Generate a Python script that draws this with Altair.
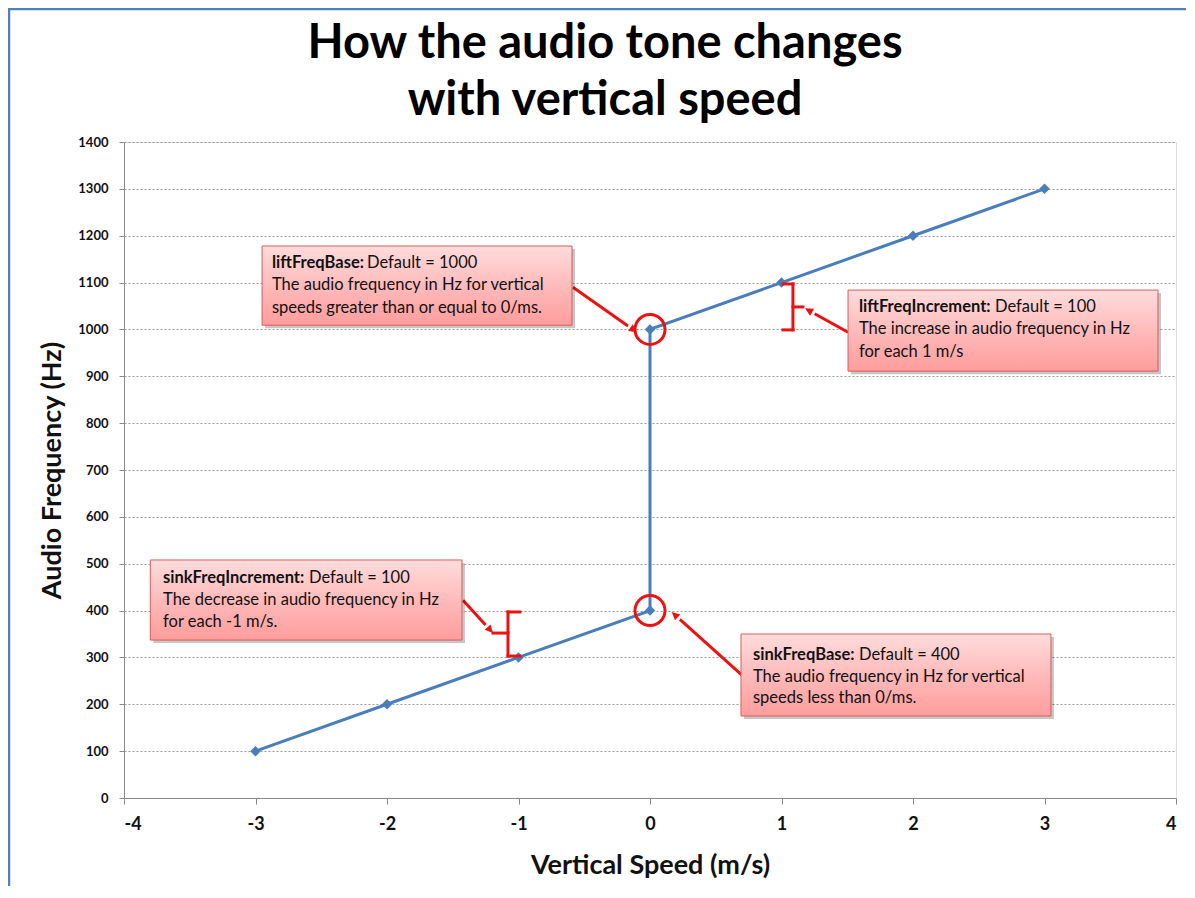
import altair as alt
import pandas as pd
import numpy as np

# ---- data ----
speed = [-3, -2, -1, 0, 0, 1, 2, 3]
freq = [100, 200, 300, 400, 1000, 1100, 1200, 1300]
x_ticks = [-4, -3, -2, -1, 0, 1, 2, 3, 4]
y_ticks = list(range(0, 1500, 100))

title_lines = ["How the audio tone changes", "with vertical speed"]
x_title = "Vertical Speed (m/s)"
y_title = "Audio Frequency (Hz)"

# annotation boxes (data units)
box_x = [-2.95, 1.506, -3.80, 0.692]
box_x2 = [-0.593, 3.863, -1.43, 3.049]
box_y = [1178, 1084, 508, 350]
box_y2 = [1009, 911, 337, 175]

bold_text = ["liftFreqBase:", "liftFreqIncrement:", "sinkFreqIncrement:", "sinkFreqBase:"]
norm_text = ["Default = 1000", "Default = 100", "Default = 100", "Default = 400"]
line2_text = ["The audio frequency in Hz for vertical", "The increase in audio frequency in Hz",
              "The decrease in audio frequency in Hz", "The audio frequency in Hz for vertical"]
line3_text = ["speeds greater than or equal to 0/ms.", "for each 1 m/s",
              "for each -1 m/s.", "speeds less than 0/ms."]
text_x = [-2.875, 1.589, -3.703, 0.783]
norm_x = [-2.152, 2.624, -2.593, 1.589]
base1 = [1131, 1037, 459, 294]
base2 = [1084, 990, 412, 248]
base3 = [1035, 941, 365, 203]

circle_x = [0, 0]
circle_y = [1000, 400]

arrow_sx = [-0.586, 1.506, -1.422, 0.699]
arrow_sy = [1090, 994, 422, 262]
arrow_tx = [-0.099, 1.179, -1.194, 0.165]
arrow_ty = [994, 1045, 352, 397]

brk_x = [1.011, 1.087, 1.011, 1.087, -0.989, -1.080, -1.080, -1.080]
brk_x2 = [1.087, 1.087, 1.087, 1.163, -1.080, -1.080, -0.989, -1.194]
brk_y = [1097, 1097, 999, 1048, 397, 397, 303, 352]
brk_y2 = [1097, 999, 999, 1048, 397, 303, 303, 352]

# ---- layout ----
W, H = 1052, 656
PX_X = W / 8.0
PX_Y = H / 1400.0
FONT = "Lato"
BLUE = "#4a7ebb"
RED = "#ee1111"
TFS = 16.5

xs = alt.Scale(domain=[-4, 4], nice=False, zero=False)
ys = alt.Scale(domain=[0, 1400], nice=False)

df = pd.DataFrame({"speed": speed, "freq": freq, "i": range(len(speed))})

line = alt.Chart(df).mark_line(
    color=BLUE, strokeWidth=3,
    point=alt.OverlayMarkDef(shape="diamond", size=110, filled=True, color=BLUE)
).encode(
    x=alt.X("speed:Q", scale=xs, axis=alt.Axis(
        values=x_ticks, labelExpr="'' + datum.value", grid=False, title=x_title,
        labelFont=FONT, labelFontSize=18, labelFontWeight="bold", labelColor="#111",
        labelPadding=11, tickSize=6, tickColor="#8a8a8a", domainColor="#8a8a8a",
        titleFont=FONT, titleFontSize=27, titleFontWeight="bold", titleColor="#111",
        titleY=75, titleBaseline="alphabetic")),
    y=alt.Y("freq:Q", scale=ys, axis=alt.Axis(
        values=y_ticks, labelExpr="'' + datum.value", grid=True, gridDash=[2, 2],
        gridColor="#9a9a9a", title=y_title, labelFont=FONT, labelFontSize=13,
        labelFontWeight="bold", labelColor="#111", labelPadding=11, tickSize=5,
        tickColor="#8a8a8a", domainColor="#8a8a8a", titleFont=FONT, titleFontSize=27,
        titleFontWeight="bold", titleColor="#111", titleX=-72, titleY=H / 2, titleAngle=270,
        titleBaseline="middle", titleAlign="center")),
    order="i:Q",
)

circ = alt.Chart(pd.DataFrame({"x": circle_x, "y": circle_y})).mark_point(
    shape="circle", size=900, filled=False, stroke=RED, strokeWidth=3, opacity=1
).encode(x=alt.X("x:Q", scale=xs), y=alt.Y("y:Q", scale=ys))

brk = alt.Chart(pd.DataFrame({"x": brk_x, "x2": brk_x2, "y": brk_y, "y2": brk_y2})).mark_rule(
    color=RED, strokeWidth=3, strokeCap="square"
).encode(x=alt.X("x:Q", scale=xs), x2="x2:Q", y=alt.Y("y:Q", scale=ys), y2="y2:Q")

# arrows: back the shaft off from the tip so the head covers it
sx = np.array(arrow_sx); sy = np.array(arrow_sy)
tx = np.array(arrow_tx); ty = np.array(arrow_ty)
dxp = (tx - sx) * PX_X
dyp = -(ty - sy) * PX_Y
L = np.hypot(dxp, dyp)
back = 11.0
ex = tx - dxp / L * back / PX_X
ey = ty + dyp / L * back / PX_Y
ang = (np.degrees(np.arctan2(dxp, -dyp)) + 360) % 360
adf = pd.DataFrame({"sx": sx, "sy": sy, "ex": ex, "ey": ey, "tx": tx, "ty": ty, "ang": ang})

shaft = alt.Chart(adf).mark_rule(color=RED, strokeWidth=3).encode(
    x=alt.X("sx:Q", scale=xs), x2="ex:Q", y=alt.Y("sy:Q", scale=ys), y2="ey:Q")
head = alt.Chart(adf).mark_point(
    shape="M0,0L-0.5,1L0.5,1Z", size=260, filled=True, color=RED, opacity=1
).encode(x=alt.X("tx:Q", scale=xs), y=alt.Y("ty:Q", scale=ys), angle=alt.Angle("ang:Q", scale=None))

bdf = pd.DataFrame({"x": box_x, "x2": box_x2, "y": box_y, "y2": box_y2})
shadow = alt.Chart(bdf).mark_rect(
    color="#000000", opacity=0.22, xOffset=3, x2Offset=3, yOffset=3, y2Offset=3
).encode(x=alt.X("x:Q", scale=xs), x2="x2:Q", y=alt.Y("y:Q", scale=ys), y2="y2:Q")
boxes = alt.Chart(bdf).mark_rect(
    fill=alt.LinearGradient(gradient="linear", x1=0, x2=0, y1=0, y2=1, stops=[
        alt.GradientStop(color="#ffdcdc", offset=0),
        alt.GradientStop(color="#ffb4b4", offset=0.6),
        alt.GradientStop(color="#ff9d9d", offset=1)]),
    stroke="#dc5a5a", strokeWidth=1
).encode(x=alt.X("x:Q", scale=xs), x2="x2:Q", y=alt.Y("y:Q", scale=ys), y2="y2:Q")

rows = []
for k in range(4):
    rows.append({"x": text_x[k], "y": base1[k], "t": bold_text[k], "w": "bold"})
    rows.append({"x": norm_x[k], "y": base1[k], "t": norm_text[k], "w": "normal"})
    rows.append({"x": text_x[k], "y": base2[k], "t": line2_text[k], "w": "normal"})
    rows.append({"x": text_x[k], "y": base3[k], "t": line3_text[k], "w": "normal"})
tdf = pd.DataFrame(rows)
txt_b = alt.Chart(tdf[tdf.w == "bold"]).mark_text(
    align="left", baseline="alphabetic", font=FONT, fontSize=TFS, fontWeight="bold", color="#111"
).encode(x=alt.X("x:Q", scale=xs), y=alt.Y("y:Q", scale=ys), text="t:N")
txt_n = alt.Chart(tdf[tdf.w == "normal"]).mark_text(
    align="left", baseline="alphabetic", font=FONT, fontSize=TFS, color="#111"
).encode(x=alt.X("x:Q", scale=xs), y=alt.Y("y:Q", scale=ys), text="t:N")

tt = pd.DataFrame({"t": title_lines})
title1 = alt.Chart(tt.iloc[[0]]).mark_text(
    font=FONT, fontSize=47, fontWeight="bold", color="#000", align="center", baseline="alphabetic"
).encode(text="t:N", x=alt.value(481), y=alt.value(-84))
title2 = alt.Chart(tt.iloc[[1]]).mark_text(
    font=FONT, fontSize=47, fontWeight="bold", color="#000", align="center", baseline="alphabetic"
).encode(text="t:N", x=alt.value(481), y=alt.value(-27))

bd = pd.DataFrame({"k": [0]})
border_l = alt.Chart(bd).mark_rule(color="#4f81bd", strokeWidth=2.5).encode(
    x=alt.value(-115), y=alt.value(-134), y2=alt.value(H + 90))
border_t = alt.Chart(bd).mark_rule(color="#4f81bd", strokeWidth=2.5).encode(
    x=alt.value(-116), x2=alt.value(W + 10), y=alt.value(-133))

chart = alt.layer(
    line, circ, brk, shaft, head, shadow, boxes, txt_b, txt_n, title1, title2, border_l, border_t
).properties(
    width=W, height=H,
    autosize=alt.AutoSizeParams(type="none"),
    padding={"left": 116, "top": 134, "right": 10, "bottom": 88},
).configure_view(stroke=None).configure(background="white")

chart.save("out.html", embed_options={"renderer": "svg", "actions": False})
